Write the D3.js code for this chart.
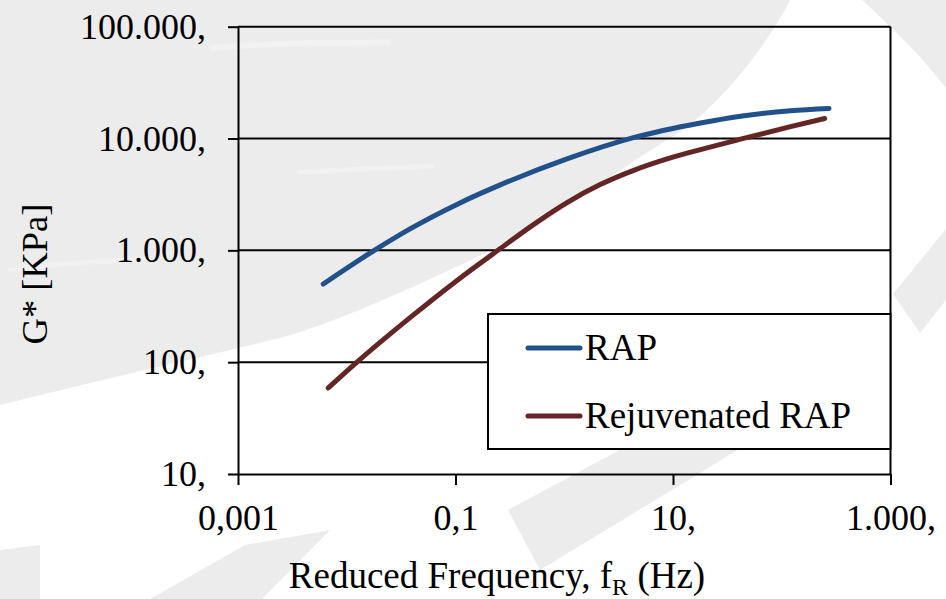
<!DOCTYPE html>
<html>
<head>
<meta charset="utf-8">
<script src="https://cdnjs.cloudflare.com/ajax/libs/d3/7.8.5/d3.min.js"></script>
<style>
  body { margin: 0; background: #fff; }
  svg { display: block; }
  text { font-family: "Liberation Serif", "Times New Roman", serif; fill: #000; }
</style>
</head>
<body>
<div id="main_svg"></div>
<script>
// data
var rapFreq = [0.00608, 0.0182, 0.0382, 0.110, 0.258, 1.06, 4.32, 17.9, 41.8, 120.5, 272];
var rapG    = [500, 1009, 1556, 2657, 3848, 6574, 10170, 13770, 15840, 17740, 18600];
var rejFreq = [0.00676, 0.01241, 0.0382, 0.110, 0.258, 0.521, 1.06, 2.14, 4.35, 8.83, 17.9, 41.8, 120.5, 248];
var rejG    = [58.8, 100, 250, 564, 1037, 1700, 2674, 3873, 5197, 6574, 7962, 9863, 12760, 15110];
var seriesNames = ["RAP", "Rejuvenated RAP"];
var xTicks = [0.001, 0.1, 10, 1000];
var xLabels = ["0,001", "0,1", "10,", "1.000,"];
var yTicks = [10, 100, 1000, 10000, 100000];
var yLabels = ["10,", "100,", "1.000,", "10.000,", "100.000,"];

// set the dimensions of the plot area
var W = 946, H = 599;
var plot = {left: 238, right: 890.5, top: 26.7, bottom: 474};

var svg = d3.select("#main_svg").append("svg")
    .attr("width", W)
    .attr("height", H);

// faint watermark shapes behind the chart
var bg = svg.append("g").attr("fill", "#ececec");
bg.append("path").attr("d",
    "M0,0 H790 C770,40 720,110 667,140 C610,175 560,215 513,240 C420,285 330,325 280,338 C180,362 80,385 0,405 Z");
bg.append("path").attr("d", "M862,0 H946 V88 C925,60 895,30 862,0 Z");
bg.append("path").attr("d", "M946,229 V300 L920,333 L893,294 Z");
bg.append("path").attr("d", "M508,510 L765,372 L812,405 L540,570 Z");
bg.append("path").attr("d", "M150,599 L245,545 L330,530 L262,599 Z");
bg.append("path").attr("d", "M0,550 L40,545 L40,599 L0,599 Z");

// lighter streaks inside the big shape
var streaks = svg.append("g")
    .attr("fill", "none")
    .attr("stroke", "#f1f1f1")
    .attr("stroke-linecap", "round");
streaks.append("path").attr("d", "M212,48 C270,42 330,44 388,42").attr("stroke-width", 6);
streaks.append("path").attr("d", "M300,172 C350,170 390,168 432,166").attr("stroke-width", 5);
streaks.append("path").attr("d", "M10,270 C60,262 110,262 150,258").attr("stroke-width", 5);

// scales
var x = d3.scaleLog().domain([0.001, 1000]).range([plot.left, plot.right]);
var y = d3.scaleLog().domain([10, 100000]).range([plot.bottom, plot.top]);

// gridlines
svg.append("g").selectAll("line")
    .data(yTicks.slice(1))
    .enter().append("line")
    .attr("x1", plot.left).attr("x2", plot.right)
    .attr("y1", function (d) { return y(d); })
    .attr("y2", function (d) { return y(d); })
    .attr("stroke", "#000")
    .attr("stroke-width", 2);

// right border
svg.append("line")
    .attr("x1", plot.right).attr("x2", plot.right)
    .attr("y1", plot.top).attr("y2", plot.bottom)
    .attr("stroke", "#000").attr("stroke-width", 2);

// y axis
svg.append("g")
    .attr("transform", "translate(" + plot.left + ",0)")
    .call(d3.axisLeft(y)
        .tickValues(yTicks)
        .tickFormat(function (d, i) { return yLabels[i]; })
        .tickSize(10)
        .tickSizeOuter(0)
        .tickPadding(22));

// x axis
svg.append("g")
    .attr("transform", "translate(0," + plot.bottom + ")")
    .call(d3.axisBottom(x)
        .tickValues(xTicks)
        .tickFormat(function (d, i) { return xLabels[i]; })
        .tickSize(11)
        .tickSizeOuter(0)
        .tickPadding(19));

svg.selectAll(".domain, .tick line")
    .attr("stroke", "#000")
    .attr("stroke-width", 2);
svg.selectAll(".tick text")
    .attr("font-family", "Liberation Serif, Times New Roman, serif")
    .attr("font-size", 36)
    .attr("fill", "#000");

// curves
var line = d3.line()
    .x(function (d) { return x(d[0]); })
    .y(function (d) { return y(d[1]); })
    .curve(d3.curveMonotoneX);

var series = [
    {name: seriesNames[0], color: "#22508a", pts: d3.zip(rapFreq, rapG)},
    {name: seriesNames[1], color: "#642624", pts: d3.zip(rejFreq, rejG)}
];

svg.selectAll(".curve")
    .data(series)
    .enter().append("path")
    .attr("class", "curve")
    .attr("d", function (d) { return line(d.pts); })
    .attr("fill", "none")
    .attr("stroke", function (d) { return d.color; })
    .attr("stroke-width", 5)
    .attr("stroke-linecap", "round");

// legend
var lg = svg.append("g");
lg.append("rect")
    .attr("x", 488).attr("y", 314)
    .attr("width", plot.right - 488).attr("height", 135)
    .attr("fill", "#fff")
    .attr("stroke", "#000").attr("stroke-width", 2);

var items = lg.selectAll(".item")
    .data(series)
    .enter().append("g")
    .attr("transform", function (d, i) { return "translate(0," + (348 + i * 68) + ")"; });
items.append("line")
    .attr("x1", 528).attr("x2", 580)
    .attr("stroke", function (d) { return d.color; })
    .attr("stroke-width", 5)
    .attr("stroke-linecap", "round");
items.append("text")
    .attr("x", 585).attr("y", 12)
    .attr("font-size", 37)
    .text(function (d) { return d.name; });

// axis titles
var xt = svg.append("text")
    .attr("x", 497).attr("y", 588)
    .attr("text-anchor", "middle")
    .attr("font-size", 37);
xt.append("tspan").text("Reduced Frequency, f");
xt.append("tspan").attr("font-size", 24).attr("dy", 7).text("R");
xt.append("tspan").attr("dy", -7).text(" (Hz)");

svg.append("text")
    .attr("transform", "translate(47,274) rotate(-90)")
    .attr("text-anchor", "middle")
    .attr("font-size", 36.5)
    .text("G* [KPa]");
</script>
</body>
</html>
